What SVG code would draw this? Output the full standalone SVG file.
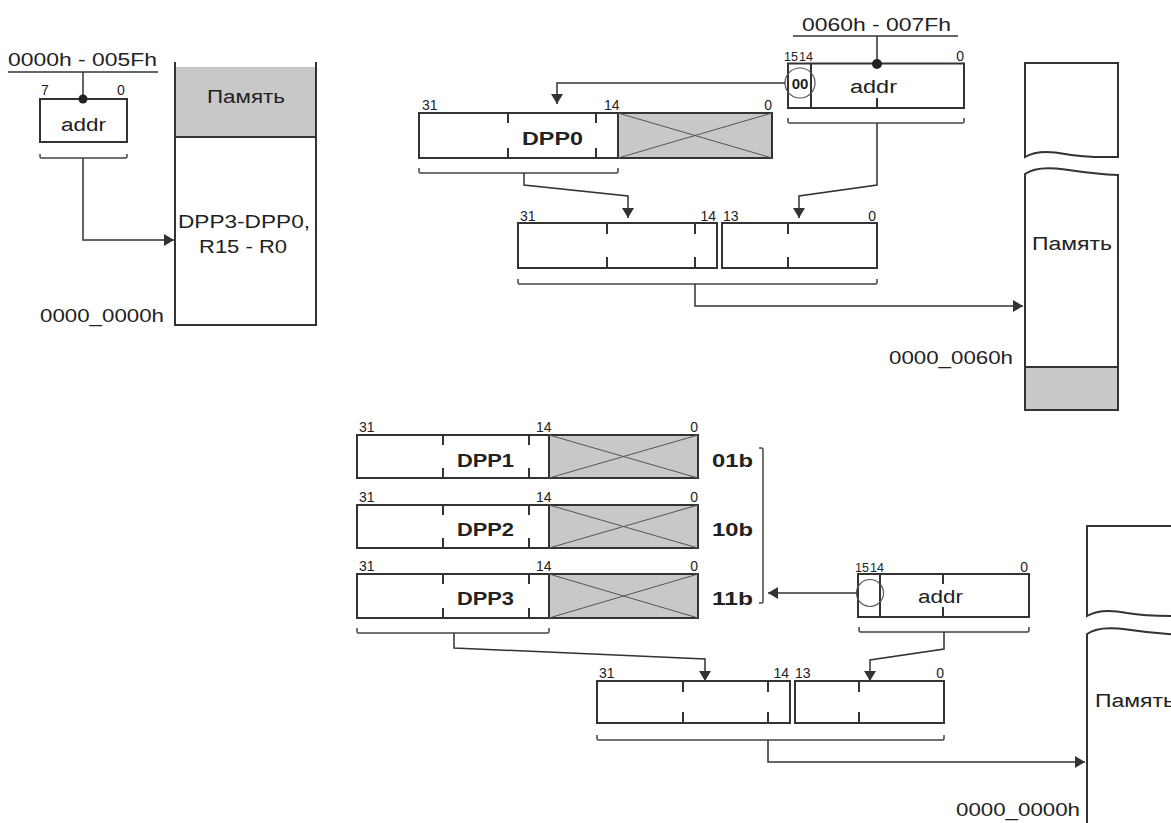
<svg xmlns="http://www.w3.org/2000/svg" width="1171" height="823" viewBox="0 0 1171 823">
<style>
.bg{fill:#fff}
.box{fill:#fff;stroke:#333;stroke-width:2}
.gray{fill:#c8c8c8;stroke:#333;stroke-width:2}
.gfill{fill:#c8c8c8;stroke:none}
.edge{fill:none;stroke:#333;stroke-width:2}
.x{fill:none;stroke:#555;stroke-width:1}
.tick{fill:none;stroke:#333;stroke-width:2}
.conn{fill:none;stroke:#333;stroke-width:1.5}
.br{fill:none;stroke:#444;stroke-width:1.5}
.t{font-family:"Liberation Sans",Arial,Helvetica,sans-serif;fill:#222}
.lbl{font-size:18px}
.num{font-size:14px}
.sm{font-size:12.5px}
.b{font-weight:bold;font-size:19px}
.e{text-anchor:end}
</style>
<defs>
<marker id="ah" markerWidth="10" markerHeight="12" refX="10" refY="6" orient="auto" markerUnits="userSpaceOnUse"><path d="M0,0 L10,6 L0,12 z" fill="#333"/></marker>
</defs>
<rect class="bg" x="0" y="0" width="1171" height="823"/>

<!-- top-left: 8-bit addr -->
<g id="addr8">
<text class="t lbl" x="8" y="65.5" textLength="149" lengthAdjust="spacingAndGlyphs">0000h - 005Fh</text>
<line class="conn" x1="8" y1="72" x2="158" y2="72"/>
<line class="conn" x1="83" y1="72" x2="83" y2="99"/>
<text class="t num" x="41" y="95">7</text>
<text class="t num" x="117" y="95">0</text>
<rect class="box" x="40" y="99" width="87" height="43"/>
<circle cx="83" cy="99" r="4.5" fill="#222"/>
<text class="t lbl" x="61" y="131" textLength="45" lengthAdjust="spacingAndGlyphs">addr</text>
<path class="br" d="M40,154 V156.5 Q40,158 41.5,158 H125.5 Q127,158 127,156.5 V154"/>
</g>

<g id="mem1">
<rect class="gfill" x="175" y="67" width="141" height="70"/>
<path class="edge" d="M175,62 V325 H316 V62"/>
<line class="edge" x1="175" y1="137" x2="316" y2="137"/>
<text class="t lbl" x="207" y="103" textLength="78" lengthAdjust="spacingAndGlyphs">Память</text>
<text class="t lbl" x="178" y="228" textLength="132" lengthAdjust="spacingAndGlyphs">DPP3-DPP0,</text>
<text class="t lbl" x="199" y="253" textLength="88" lengthAdjust="spacingAndGlyphs">R15 - R0</text>
<text class="t lbl" x="40" y="322" textLength="124" lengthAdjust="spacingAndGlyphs">0000_0000h</text>
</g>

<!-- top middle: 16-bit addr -->
<g id="addr16a">
<text class="t lbl" x="802" y="31" textLength="149" lengthAdjust="spacingAndGlyphs">0060h - 007Fh</text>
<line class="conn" x1="793" y1="36" x2="958" y2="36"/>
<line class="conn" x1="877" y1="36" x2="877" y2="63"/>
<text class="t sm" x="784" y="61">15</text>
<text class="t sm" x="799" y="61">14</text>
<text class="t num e" x="964" y="61">0</text>
<rect class="box" x="788" y="63.5" width="176" height="44.5"/>
<line class="tick" x1="811" y1="63.5" x2="811" y2="108"/>
<line class="tick" x1="877" y1="98" x2="877" y2="108"/>
<circle cx="877" cy="64" r="5" fill="#222"/>
<circle cx="800" cy="83" r="15" fill="none" stroke="#555" stroke-width="1.2"/>
<text class="t" x="800" y="88.5" font-size="15" font-weight="bold" text-anchor="middle">00</text>
<text class="t lbl" x="850" y="93" textLength="47" lengthAdjust="spacingAndGlyphs">addr</text>
<path class="br" d="M788,118 V121.5 Q788,123 789.5,123 H962.5 Q964,123 964,121.5 V118"/>
</g>

<g id="dpp0">
<text class="t num" x="422" y="110">31</text>
<text class="t num" x="604" y="110">14</text>
<text class="t num e" x="772" y="110">0</text>
<rect class="box" x="419" y="113" width="199" height="45"/>
<rect class="gray" x="618" y="113" width="154" height="45"/>
<path class="x" d="M618,113 L772,158 M618,158 L772,113"/>
<path class="tick" d="M508,113 V123 M508,148 V158 M596,113 V123 M596,148 V158"/>
<text class="t b" x="522" y="145" textLength="61" lengthAdjust="spacingAndGlyphs">DPP0</text>
<path class="br" d="M419,168 V171.5 Q419,173 420.5,173 H616.5 Q618,173 618,171.5 V168"/>
</g>

<g id="phys1">
<text class="t num" x="520" y="221">31</text>
<text class="t num e" x="716" y="221">14</text>
<text class="t num" x="723" y="221">13</text>
<text class="t num e" x="876" y="221">0</text>
<rect class="box" x="518" y="223" width="199" height="45"/>
<rect class="box" x="722" y="223" width="155" height="45"/>
<path class="tick" d="M607,223 V234 M607,257 V268 M695,223 V234 M695,257 V268 M788,223 V234 M788,257 V268"/>
<path class="br" d="M518,279 V282.5 Q518,284 519.5,284 H875.5 Q877,284 877,282.5 V279"/>
</g>

<g id="mem2">
<path class="box" d="M1025,157 V63 H1118 V157 C1095,157.5 1080,157 1065,154 C1050,151 1035,151 1025,157 Z"/>
<path class="box" d="M1025,174 C1033,168 1048,167 1065,169.5 C1085,172.5 1100,174.5 1118,175 V410 H1025 Z"/>
<rect class="gray" x="1025" y="367" width="93" height="43"/>
<text class="t lbl" x="1032" y="250" textLength="80" lengthAdjust="spacingAndGlyphs">Память</text>
<text class="t lbl" x="889" y="364" textLength="124" lengthAdjust="spacingAndGlyphs">0000_0060h</text>
</g>

<!-- bottom: DPP1..DPP3 -->
<g id="dpp1">
<text class="t num" x="359" y="432">31</text>
<text class="t num" x="536" y="432">14</text>
<text class="t num e" x="698" y="432">0</text>
<rect class="box" x="357" y="435" width="192" height="43"/>
<rect class="gray" x="549" y="435" width="149" height="43"/>
<path class="x" d="M549,435 L698,478 M549,478 L698,435"/>
<path class="tick" d="M443,435 V445 M443,468 V478 M529,435 V445 M529,468 V478"/>
<text class="t b" x="457" y="467" textLength="57" lengthAdjust="spacingAndGlyphs">DPP1</text>
<text class="t b" x="712" y="467" textLength="41" lengthAdjust="spacingAndGlyphs">01b</text>
</g>
<g id="dpp2">
<text class="t num" x="359" y="502">31</text>
<text class="t num" x="536" y="502">14</text>
<text class="t num e" x="698" y="502">0</text>
<rect class="box" x="357" y="505" width="192" height="43"/>
<rect class="gray" x="549" y="505" width="149" height="43"/>
<path class="x" d="M549,505 L698,548 M549,548 L698,505"/>
<path class="tick" d="M443,505 V515 M443,538 V548 M529,505 V515 M529,538 V548"/>
<text class="t b" x="457" y="536" textLength="57" lengthAdjust="spacingAndGlyphs">DPP2</text>
<text class="t b" x="712" y="536" textLength="41" lengthAdjust="spacingAndGlyphs">10b</text>
</g>
<g id="dpp3">
<text class="t num" x="359" y="571">31</text>
<text class="t num" x="536" y="571">14</text>
<text class="t num e" x="698" y="571">0</text>
<rect class="box" x="357" y="574" width="192" height="44"/>
<rect class="gray" x="549" y="574" width="149" height="44"/>
<path class="x" d="M549,574 L698,618 M549,618 L698,574"/>
<path class="tick" d="M443,574 V584 M443,608 V618 M529,574 V584 M529,608 V618"/>
<text class="t b" x="457" y="605" textLength="57" lengthAdjust="spacingAndGlyphs">DPP3</text>
<text class="t b" x="712" y="605" textLength="41" lengthAdjust="spacingAndGlyphs">11b</text>
<path class="br" d="M357,628 V631.5 Q357,633 358.5,633 H547.5 Q549,633 549,631.5 V628"/>
</g>
<g id="sel">
<path class="br" d="M759,448 H761.5 Q763,448 763,449.5 V601.5 Q763,603 761.5,603 H759"/>
</g>

<g id="addr16b">
<text class="t sm" x="855" y="572">15</text>
<text class="t sm" x="870" y="572">14</text>
<text class="t num e" x="1028" y="572">0</text>
<rect class="box" x="858" y="574" width="171" height="43"/>
<line class="tick" x1="880" y1="574" x2="880" y2="617"/>
<path class="tick" d="M943,574 V584 M943,607 V617"/>
<circle cx="870" cy="593" r="13.5" fill="none" stroke="#555" stroke-width="1.2"/>
<text class="t lbl" x="918" y="603" textLength="45" lengthAdjust="spacingAndGlyphs">addr</text>
<path class="br" d="M859,627 V630.5 Q859,632 860.5,632 H1027.5 Q1029,632 1029,630.5 V627"/>
</g>

<g id="phys2">
<text class="t num" x="599" y="678">31</text>
<text class="t num e" x="789" y="678">14</text>
<text class="t num" x="795" y="678">13</text>
<text class="t num e" x="944" y="678">0</text>
<rect class="box" x="597" y="681" width="193" height="42"/>
<rect class="box" x="795" y="681" width="149" height="42"/>
<path class="tick" d="M683,681 V692 M683,712 V723 M768,681 V692 M768,712 V723 M859,681 V692 M859,712 V723"/>
<path class="br" d="M597,735 V738.5 Q597,740 598.5,740 H942.5 Q944,740 944,738.5 V735"/>
</g>

<g id="mem3">
<path class="box" d="M1087,616 V526 H1190 V616 C1165,616.5 1145,616 1127,613 C1112,610 1097,610 1087,616 Z"/>
<path class="box" d="M1087,634 C1095,628 1110,627 1127,629.5 C1147,632.5 1162,634.5 1190,635 V840 H1087 Z"/>
<text class="t lbl" x="1095" y="707" textLength="80" lengthAdjust="spacingAndGlyphs">Память</text>
<text class="t lbl" x="956" y="816" textLength="124" lengthAdjust="spacingAndGlyphs">0000_0000h</text>
</g>

<g id="connectors">
<path class="conn" d="M83,158 V240 H174" marker-end="url(#ah)"/>
<path class="conn" d="M785,83 H557 V104" marker-end="url(#ah)"/>
<path class="conn" d="M524,173 V185 L628,196 V218" marker-end="url(#ah)"/>
<path class="conn" d="M877,123 V185 L799,196 V218" marker-end="url(#ah)"/>
<path class="conn" d="M695,284 V306 H1023" marker-end="url(#ah)"/>
<path class="conn" d="M856,593 H768" marker-end="url(#ah)"/>
<path class="conn" d="M454,633 V648 L705,659 V681" marker-end="url(#ah)"/>
<path class="conn" d="M944,632 V649 L870,660 V681" marker-end="url(#ah)"/>
<path class="conn" d="M768,740 V762 H1085" marker-end="url(#ah)"/>
</g>
</svg>
